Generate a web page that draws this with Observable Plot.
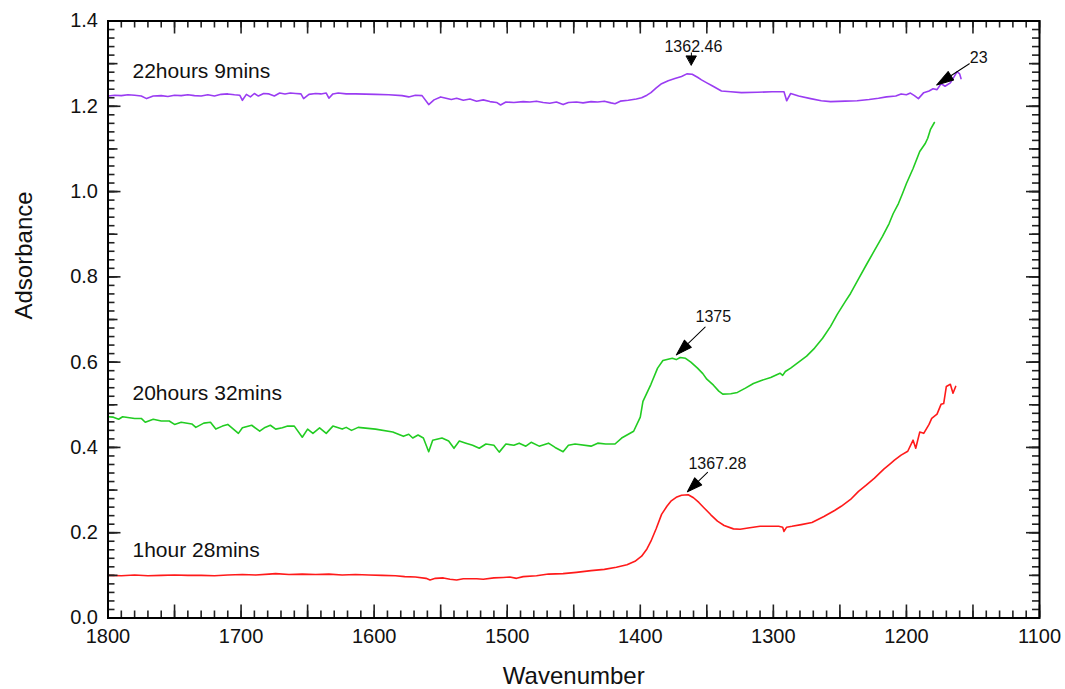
<!DOCTYPE html>
<html><head><meta charset="utf-8">
<script src="https://cdn.jsdelivr.net/npm/d3@7"></script>
<script src="https://cdn.jsdelivr.net/npm/@observablehq/plot@0.6"></script>
<style>body{margin:0;background:#fff} svg{display:block}</style>
</head><body><div id="chart"></div>
<script>
// ---- data: [wavenumber, absorbance] ----
const red = [[1800,0.100],[1790,0.099],[1780,0.101],[1770,0.099],[1760,0.100],[1750,0.101],[1740,0.100],[1730,0.100],[1720,0.099],[1710,0.101],[1699,0.102],[1689,0.101],[1679,0.103],[1674,0.104],[1664,0.102],[1654,0.103],[1644,0.102],[1634,0.103],[1624,0.101],[1614,0.102],[1604,0.101],[1594,0.100],[1584,0.099],[1577,0.097],[1569,0.096],[1561,0.093],[1558,0.089],[1554,0.093],[1548,0.094],[1543,0.091],[1538,0.089],[1533,0.092],[1523,0.092],[1518,0.091],[1510,0.094],[1503,0.095],[1498,0.096],[1493,0.093],[1488,0.097],[1478,0.099],[1469,0.103],[1458,0.104],[1448,0.107],[1437,0.111],[1427,0.114],[1418,0.119],[1410,0.125],[1404,0.133],[1399,0.145],[1395,0.162],[1392,0.180],[1388,0.210],[1384,0.243],[1380,0.262],[1377,0.274],[1373,0.283],[1369,0.288],[1364,0.289],[1360,0.282],[1356,0.271],[1352,0.258],[1347,0.242],[1342,0.227],[1337,0.217],[1330,0.209],[1325,0.208],[1319,0.211],[1310,0.215],[1302,0.215],[1296,0.215],[1293,0.213],[1292,0.203],[1290,0.213],[1286,0.215],[1279,0.219],[1271,0.224],[1262,0.238],[1254,0.252],[1249,0.262],[1242,0.278],[1236,0.297],[1230,0.312],[1224,0.328],[1217,0.349],[1212,0.362],[1209,0.370],[1204,0.382],[1199,0.391],[1195,0.417],[1193,0.398],[1190,0.436],[1187,0.433],[1183,0.454],[1181,0.468],[1177,0.478],[1174,0.501],[1172,0.503],[1170,0.543],[1167,0.548],[1165,0.527],[1163,0.543]];

const green = [[1800,0.472],[1796,0.471],[1792,0.466],[1789,0.472],[1780,0.468],[1775,0.468],[1772,0.459],[1766,0.466],[1760,0.462],[1754,0.462],[1750,0.454],[1745,0.459],[1737,0.455],[1734,0.447],[1728,0.457],[1723,0.459],[1719,0.443],[1714,0.450],[1710,0.454],[1702,0.433],[1699,0.446],[1692,0.452],[1686,0.438],[1682,0.447],[1678,0.452],[1674,0.443],[1669,0.446],[1665,0.450],[1660,0.450],[1654,0.424],[1650,0.443],[1646,0.433],[1641,0.446],[1636,0.433],[1631,0.450],[1624,0.443],[1621,0.447],[1617,0.440],[1612,0.447],[1599,0.443],[1586,0.436],[1578,0.426],[1574,0.431],[1571,0.422],[1567,0.429],[1563,0.422],[1559,0.390],[1556,0.417],[1549,0.422],[1544,0.415],[1540,0.398],[1536,0.415],[1531,0.410],[1526,0.405],[1521,0.398],[1516,0.408],[1510,0.405],[1506,0.389],[1501,0.408],[1495,0.405],[1491,0.410],[1486,0.403],[1482,0.412],[1476,0.403],[1469,0.410],[1464,0.400],[1458,0.390],[1454,0.405],[1449,0.408],[1437,0.403],[1432,0.410],[1426,0.408],[1419,0.408],[1414,0.422],[1405,0.438],[1400,0.471],[1398,0.508],[1392,0.548],[1387,0.586],[1383,0.604],[1376,0.609],[1373,0.606],[1370,0.611],[1366,0.609],[1362,0.600],[1357,0.586],[1353,0.573],[1350,0.560],[1345,0.546],[1341,0.532],[1338,0.525],[1332,0.526],[1327,0.529],[1321,0.539],[1315,0.550],[1309,0.557],[1302,0.564],[1295,0.574],[1293,0.569],[1291,0.578],[1287,0.586],[1281,0.600],[1275,0.614],[1269,0.633],[1263,0.656],[1257,0.684],[1252,0.712],[1246,0.742],[1242,0.761],[1236,0.795],[1230,0.829],[1224,0.862],[1218,0.895],[1213,0.925],[1210,0.948],[1206,0.972],[1203,0.995],[1200,1.019],[1195,1.054],[1190,1.094],[1186,1.112],[1184,1.125],[1182,1.145],[1179,1.162]];

const purple = [[1800,1.224],[1795,1.226],[1790,1.225],[1785,1.227],[1780,1.226],[1775,1.224],[1771,1.218],[1766,1.224],[1760,1.225],[1755,1.223],[1750,1.226],[1745,1.225],[1740,1.227],[1735,1.225],[1730,1.224],[1725,1.227],[1720,1.224],[1715,1.228],[1710,1.229],[1705,1.227],[1701,1.226],[1699,1.214],[1696,1.228],[1693,1.222],[1690,1.230],[1687,1.224],[1683,1.230],[1679,1.229],[1675,1.224],[1671,1.231],[1667,1.229],[1663,1.231],[1659,1.230],[1655,1.229],[1653,1.218],[1649,1.228],[1644,1.230],[1640,1.229],[1636,1.231],[1634,1.219],[1631,1.229],[1627,1.231],[1621,1.229],[1614,1.229],[1599,1.228],[1589,1.227],[1579,1.225],[1574,1.222],[1569,1.226],[1564,1.225],[1559,1.204],[1555,1.215],[1550,1.222],[1546,1.219],[1542,1.216],[1538,1.219],[1533,1.214],[1528,1.217],[1523,1.212],[1518,1.215],[1513,1.211],[1508,1.209],[1505,1.203],[1501,1.210],[1495,1.209],[1488,1.211],[1483,1.210],[1478,1.212],[1473,1.209],[1468,1.207],[1463,1.210],[1458,1.204],[1454,1.209],[1448,1.210],[1443,1.208],[1437,1.211],[1432,1.210],[1427,1.212],[1422,1.208],[1419,1.206],[1415,1.212],[1409,1.214],[1403,1.217],[1399,1.220],[1395,1.226],[1392,1.232],[1388,1.243],[1384,1.253],[1379,1.260],[1374,1.265],[1369,1.270],[1365,1.276],[1361,1.275],[1357,1.268],[1354,1.262],[1350,1.255],[1346,1.248],[1342,1.241],[1339,1.236],[1332,1.234],[1324,1.232],[1312,1.233],[1301,1.234],[1292,1.234],[1290,1.213],[1287,1.230],[1281,1.224],[1272,1.218],[1264,1.213],[1257,1.211],[1246,1.212],[1237,1.213],[1228,1.216],[1221,1.219],[1215,1.222],[1208,1.224],[1204,1.229],[1200,1.227],[1197,1.231],[1194,1.225],[1191,1.218],[1187,1.232],[1183,1.236],[1180,1.241],[1177,1.239],[1174,1.253],[1171,1.247],[1167,1.255],[1164,1.270],[1162,1.281],[1160,1.276],[1159,1.265]];

const seriesNames = ["1hour 28mins", "20hours 32mins", "22hours 9mins"];
const seriesLabelAt = [[1781.6, 0.158], [1781.6, 0.528], [1781.6, 1.283]];

const annotLabels = ["1362.46", "23", "1375", "1367.28"];
const annotTips = [[1361.6, 1.297], [1177.3, 1.250], [1372.9, 0.617], [1364.6, 0.296]];

const xTickLabels = [1800, 1700, 1600, 1500, 1400, 1300, 1200, 1100];
const yTickLabels = [0, 0.2, 0.4, 0.6, 0.8, 1.0, 1.2, 1.4];

// ---- layout / style ----
const W = 1065, H = 689, mL = 107.5, mR = 26, mT = 20.5, mB = 71.5;
const PW = W - mL - mR, PH = H - mT - mB;
const xDom = [1800, 1100], yDom = [0, 1.4];
const pxX = (xDom[0] - xDom[1]) / PW;   // wavenumber units per pixel
const pxY = (yDom[1] - yDom[0]) / PH;   // absorbance units per pixel
const colors = ["#ff1a1a", "#22cc22", "#9a3cf2"];
const seriesData = [red, green, purple];
const annotStyle = [
  {rotate: 180, length: 12, hl: 9, hw: 10, dx: 2, dy: -13},
  {rotate: 237, length: 39, hl: 17, hw: 10, dx: 42, dy: -22},
  {rotate: 226, length: 40, hl: 16, hw: 10, dx: 37, dy: -33},
  {rotate: 226, length: 28, hl: 15, hw: 10, dx: 30, dy: -23}
];

function headShape(hl, hw) {
  return {draw(ctx, l) {
    ctx.moveTo(0, 0); ctx.lineTo(0, -l);
    ctx.moveTo(0, -l); ctx.lineTo(-hw / 2, -l + hl); ctx.lineTo(hw / 2, -l + hl); ctx.closePath();
  }};
}

const x10 = d3.range(1800, 1099, -10);
const x50 = d3.range(1800, 1099, -50);
const y02 = d3.range(0, 1.4001, 0.02);
const y10 = d3.range(0, 1.4001, 0.1);
const tickColor = "#222";
const tickW = 1.6;

function xTickRules(vals, len) {
  const h = len * pxY;
  return [
    Plot.ruleX(vals, {x: d => d, y1: yDom[0], y2: yDom[0] + h, stroke: tickColor, strokeWidth: tickW}),
    Plot.ruleX(vals, {x: d => d, y1: yDom[1] - h, y2: yDom[1], stroke: tickColor, strokeWidth: tickW})
  ];
}
function yTickRules(vals, len) {
  const w = len * pxX;
  return [
    Plot.ruleY(vals, {y: d => d, x1: xDom[0], x2: xDom[0] - w, stroke: tickColor, strokeWidth: tickW}),
    Plot.ruleY(vals, {y: d => d, x1: xDom[1] + w, x2: xDom[1], stroke: tickColor, strokeWidth: tickW})
  ];
}

const marks = [];
marks.push(Plot.axisX(xTickLabels, {tickSize: 0, tickPadding: 11, fontSize: 20, label: null, tickFormat: d => String(d), fill: "#111"}));
marks.push(Plot.axisY(yTickLabels, {tickSize: 0, tickPadding: 10, fontSize: 20, label: null, tickFormat: d3.format(".1f"), fill: "#111"}));

// series
seriesData.forEach((s, i) => {
  marks.push(Plot.line(s, {x: d => d[0], y: d => d[1], stroke: colors[i], strokeWidth: 1.6}));
});
// series labels
marks.push(Plot.text(seriesNames, {x: (d, i) => seriesLabelAt[i][0], y: (d, i) => seriesLabelAt[i][1], text: d => d, textAnchor: "start", lineAnchor: "middle", fontSize: 21, fill: "#111"}));

// annotations
annotLabels.forEach((lab, i) => {
  const s = annotStyle[i];
  marks.push(Plot.vector([annotTips[i]], {x: d => d[0], y: d => d[1], rotate: s.rotate, length: s.length, anchor: "end", shape: headShape(s.hl, s.hw), stroke: "black", fill: "black", strokeWidth: 1}));
  marks.push(Plot.text([lab], {x: () => annotTips[i][0], y: () => annotTips[i][1], text: d => d, dx: s.dx, dy: s.dy, lineAnchor: "bottom", textAnchor: "middle", fontSize: 16, fill: "#111"}));
});

// axis titles
marks.push(Plot.text(["Wavenumber"], {frameAnchor: "bottom", text: d => d, dy: 58, lineAnchor: "middle", fontSize: 24, fill: "#111"}));
marks.push(Plot.text(["Adsorbance"], {frameAnchor: "left", text: d => d, dx: -84, rotate: -90, lineAnchor: "middle", fontSize: 24, fill: "#111"}));

// inward ticks on all four sides, drawn on top
marks.push(...xTickRules(x10, 7), ...xTickRules(x50, 13));
marks.push(...yTickRules(y02, 7), ...yTickRules(y10, 10), ...yTickRules(yTickLabels, 13));

marks.push(Plot.frame({stroke: "black", strokeWidth: 2}));

const chart = Plot.plot({
  width: W, height: H,
  marginLeft: mL, marginRight: mR, marginTop: mT, marginBottom: mB,
  x: {domain: xDom, axis: null},
  y: {domain: yDom, axis: null},
  style: {fontFamily: "'Liberation Sans', Arial, sans-serif", background: "white", color: "black"},
  marks
});
document.getElementById("chart").appendChild(chart);
</script></body></html>
